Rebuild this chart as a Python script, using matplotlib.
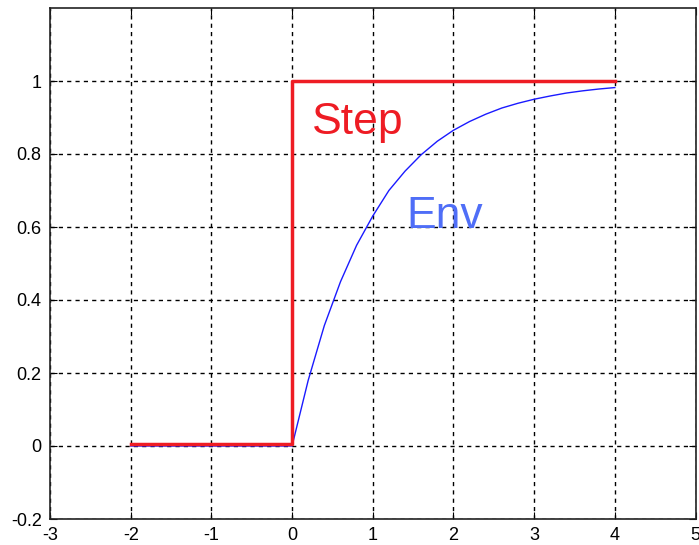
import matplotlib
matplotlib.use("Agg")
import matplotlib.pyplot as plt

# Step signal
step_x = [-2, 0, 0, 4]
step_y = [0.005, 0.005, 1.0, 1.0]

# Envelope
env_x = [-2, 0, 0.2, 0.4, 0.6, 0.8, 1.0, 1.2, 1.4, 1.6, 1.8, 2.0,
         2.2, 2.4, 2.6, 2.8, 3.0, 3.2, 3.4, 3.6, 3.8, 4.0]
env_y = [0, 0, 0.18, 0.33, 0.45, 0.55, 0.63, 0.70, 0.753, 0.798, 0.835, 0.865,
         0.889, 0.909, 0.926, 0.939, 0.95, 0.959, 0.967, 0.973, 0.978, 0.982]

xticks = [-3, -2, -1, 0, 1, 2, 3, 4, 5]
yticks = [-0.2, 0, 0.2, 0.4, 0.6, 0.8, 1]
ytick_labels = ["-0.2", "0", "0.2", "0.4", "0.6", "0.8", "1"]

plt.rcParams['font.family'] = ['Liberation Sans', 'DejaVu Sans']

fig = plt.figure(figsize=(6.99, 5.45), dpi=100)
ax = fig.add_axes([50/699, 26/545, 645.5/699, 511/545])

ax.plot(env_x, env_y, color='#1a1aff', lw=1.0, zorder=3)
ax.plot(step_x, step_y, color='#ee1c24', lw=2.5, zorder=4)

ax.set_xlim(-3, 5)
ax.set_ylim(-0.2, 1.2)
ax.set_xticks(xticks)
ax.set_xticklabels([str(v) for v in xticks])
ax.set_yticks(yticks)
ax.set_yticklabels(ytick_labels)

ax.grid(True, color='black', linestyle=(0, (3, 3)), linewidth=1.0)
ax.tick_params(direction='in', length=5, top=True, right=True,
               labelsize=13, pad=6)
for s in ax.spines.values():
    s.set_linewidth(1.2)
    s.set_color('#222222')

ax.text(0.25, 0.856, "Step", color='#ee1c24', fontsize=32, ha='left', va='baseline')
ax.text(1.42, 0.597, "Env", color='#4f6ef7', fontsize=32, ha='left', va='baseline')

fig.savefig("out.png", dpi=100)
